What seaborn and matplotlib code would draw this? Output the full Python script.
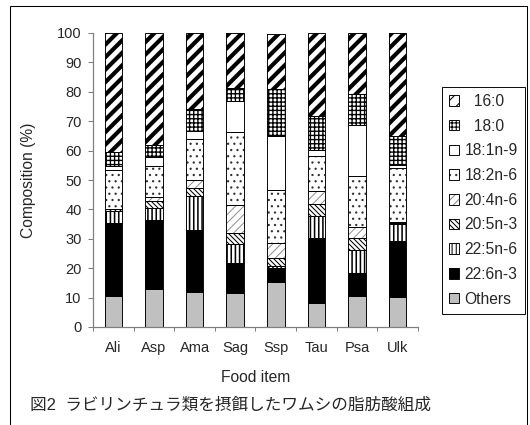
import matplotlib
matplotlib.use("Agg")
import matplotlib.pyplot as plt
import seaborn as sns
from matplotlib.patches import Patch, Rectangle
from matplotlib.legend_handler import HandlerTuple

# fatty acid composition (%) per food item
foods = ["Ali", "Asp", "Ama", "Sag", "Ssp", "Tau", "Psa", "Ulk"]
others = [10.5, 13.0, 11.8, 11.5, 15.2, 8.2, 10.7, 10.3]
fa_22_6n3 = [24.8, 23.5, 21.2, 10.3, 4.9, 22.1, 7.7, 18.9]
fa_22_5n6 = [4.3, 3.9, 11.4, 6.6, 0.8, 7.6, 7.7, 6.0]
fa_20_5n3 = [0.4, 2.6, 2.8, 3.7, 2.6, 3.8, 4.2, 0.3]
fa_20_4n6 = [0.3, 1.1, 2.9, 9.4, 5.2, 4.5, 3.8, 0.3]
fa_18_2n6 = [13.1, 10.8, 13.7, 24.8, 18.0, 11.9, 17.2, 18.4]
fa_18_1n9 = [1.2, 2.9, 2.7, 10.5, 18.3, 2.0, 17.5, 0.8]
fa_18_0 = [4.9, 4.1, 7.6, 4.6, 16.0, 11.8, 10.6, 10.0]
fa_16_0 = [40.5, 38.1, 25.9, 18.6, 18.5, 28.1, 20.6, 35.0]

# bottom -> top: (label, values, face, hatch, hatch colour, hatch linewidth)
layers = [
    ("Others", others, "#c0c0c0", None, "black", 1.0),
    ("22:6n-3", fa_22_6n3, "black", None, "black", 1.0),
    ("22:5n-6", fa_22_5n6, "white", "|||", "black", 1.5),
    ("20:5n-3", fa_20_5n3, "white", "\\\\\\\\\\", "black", 1.0),
    ("20:4n-6", fa_20_4n6, "white", "///", "#8a8a8a", 0.9),
    ("18:2n-6", fa_18_2n6, "white", "..", "#333333", 1.0),
    ("18:1n-9", fa_18_1n9, "white", None, "black", 1.0),
    ("18:0", fa_18_0, "white", "+++", "black", 1.3),
    ("16:0", fa_16_0, "white", "//", "black", 4.0),
]

sns.set_style("white")
plt.rcParams["font.family"] = ["Liberation Sans", "Noto Sans CJK JP"]

DPI = 75
fig = plt.figure(figsize=(530 / DPI, 425 / DPI), dpi=DPI)
ax = fig.add_axes([93 / 530, (425 - 327) / 425, 325 / 530, 294 / 425])

bottom = [0.0] * len(foods)
handles = []
for label, vals, face, hatch, hcol, hlw in layers:
    n0 = len(ax.patches)
    sns.barplot(x=foods, y=vals, bottom=bottom, order=foods, color=face,
                saturation=1, width=0.43, hatch=hatch, edgecolor=hcol,
                linewidth=0, ax=ax)
    for p in ax.patches[n0:]:
        if hasattr(p, "set_hatch_linewidth"):
            p.set_hatch_linewidth(hlw)
    # black outline of each segment
    n1 = len(ax.patches)
    sns.barplot(x=foods, y=vals, bottom=bottom, order=foods, color="white",
                saturation=1, width=0.43, edgecolor="black", linewidth=0.9,
                ax=ax)
    for p in ax.patches[n1:]:
        p.set_facecolor("none")
    bottom = [b + v for b, v in zip(bottom, vals)]

    fill = Patch(facecolor=face, hatch=hatch, edgecolor=hcol, linewidth=0)
    if hasattr(fill, "set_hatch_linewidth"):
        fill.set_hatch_linewidth(hlw)
    edge = Patch(facecolor="none", edgecolor="black", linewidth=0.9)
    name = "  " + label if label in ("16:0", "18:0") else label
    handles.append(((fill, edge), name))

ax.set_ylim(0, 100)
ax.set_xlim(-0.5, len(foods) - 0.5)
ax.set_yticks(range(0, 101, 10))
ax.set_xticks(range(len(foods)))
ax.set_xticks([i - 0.5 for i in range(len(foods) + 1)], minor=True)
ax.tick_params(axis="y", which="major", direction="out", length=5, width=1,
               color="#808080", labelsize=14, pad=6, left=True)
ax.tick_params(axis="x", which="major", length=0, labelsize=14, pad=13)
ax.tick_params(axis="x", which="minor", direction="out", length=4, width=1,
               color="#808080", bottom=True)
for side in ("top", "right"):
    ax.spines[side].set_visible(False)
for side in ("left", "bottom"):
    ax.spines[side].set_color("#808080")
    ax.spines[side].set_linewidth(1.2)

ax.set_xlabel("Food item", fontsize=15)
ax.xaxis.set_label_coords(0.5, (327 - 378) / 294)
ax.xaxis.label.set_va("center")
ax.set_ylabel("Composition (%)", fontsize=15)
ax.yaxis.set_label_coords((28 - 93) / 325, 0.5)
ax.yaxis.label.set_va("center")

hs = [h for h, _ in reversed(handles)]
ls = [l for _, l in reversed(handles)]
leg = fig.legend(hs, ls, handler_map={tuple: HandlerTuple(ndivide=1, pad=0)},
                 loc="upper left", bbox_to_anchor=(442 / 530, 1 - 87 / 425),
                 borderaxespad=0, frameon=True, fancybox=False, framealpha=1,
                 edgecolor="black", fontsize=15, handlelength=0.65,
                 handleheight=0.65, handletextpad=0.35, labelspacing=0.62,
                 borderpad=0.45)
leg.get_frame().set_linewidth(0.9)

fig.text(30 / 530, 1 - 405 / 425, "図2  ラビリンチュラ類を摂餌したワムシの脂肪酸組成",
         ha="left", va="center", fontsize=16)

fig.add_artist(Rectangle((9.5 / 530, -0.05), (527 - 9.5) / 530,
                         1.05 - 5.5 / 425, transform=fig.transFigure,
                         fill=False, edgecolor="black", linewidth=1))

fig.savefig("out.png", dpi=DPI)
